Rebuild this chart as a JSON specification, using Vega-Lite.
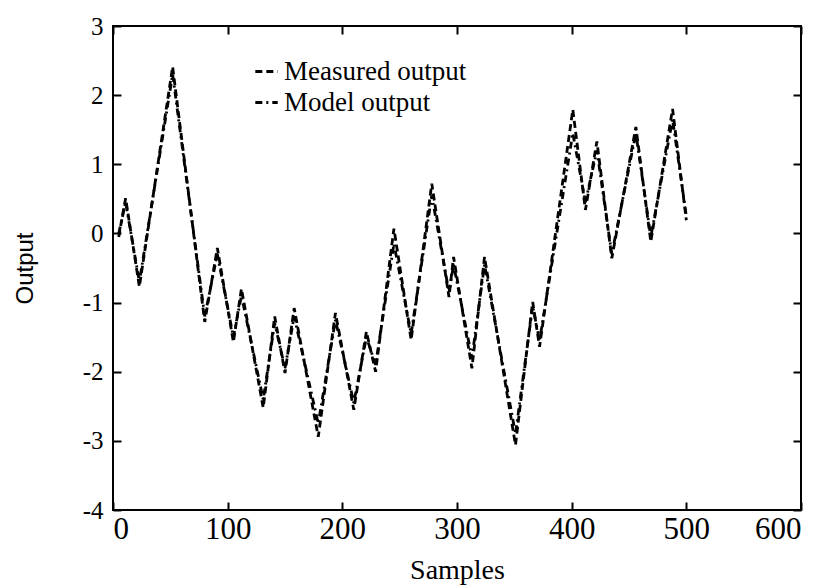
{
  "$schema": "https://vega.github.io/schema/vega-lite/v6.json",
  "width": 688,
  "height": 484,
  "autosize": {"type": "none"},
  "padding": {"left": 113, "top": 26, "right": 19, "bottom": 78},
  "background": "white",
  "config": {
    "view": {"stroke": "black", "strokeWidth": 2},
    "axis": {"grid": false, "ticks": true, "domain": false, "tickSize": 8, "zindex": 1, "tickColor": "black", "tickWidth": 2, "labelColor": "black", "titleColor": "black", "titleFontWeight": "normal"}
  },
  "datasets": {
    "series": [
      {"sample": 5, "value": -0.05, "series": "Measured output"},
      {"sample": 11, "value": 0.51, "series": "Measured output"},
      {"sample": 23, "value": -0.77, "series": "Measured output"},
      {"sample": 52, "value": 2.41, "series": "Measured output"},
      {"sample": 80, "value": -1.28, "series": "Measured output"},
      {"sample": 91, "value": -0.21, "series": "Measured output"},
      {"sample": 105, "value": -1.57, "series": "Measured output"},
      {"sample": 112, "value": -0.8, "series": "Measured output"},
      {"sample": 131, "value": -2.52, "series": "Measured output"},
      {"sample": 141, "value": -1.2, "series": "Measured output"},
      {"sample": 150, "value": -2.02, "series": "Measured output"},
      {"sample": 158, "value": -1.08, "series": "Measured output"},
      {"sample": 179, "value": -2.94, "series": "Measured output"},
      {"sample": 194, "value": -1.15, "series": "Measured output"},
      {"sample": 210, "value": -2.55, "series": "Measured output"},
      {"sample": 221, "value": -1.42, "series": "Measured output"},
      {"sample": 229, "value": -2.0, "series": "Measured output"},
      {"sample": 245, "value": 0.07, "series": "Measured output"},
      {"sample": 260, "value": -1.54, "series": "Measured output"},
      {"sample": 278, "value": 0.72, "series": "Measured output"},
      {"sample": 293, "value": -0.92, "series": "Measured output"},
      {"sample": 297, "value": -0.34, "series": "Measured output"},
      {"sample": 313, "value": -1.95, "series": "Measured output"},
      {"sample": 324, "value": -0.34, "series": "Measured output"},
      {"sample": 351, "value": -3.06, "series": "Measured output"},
      {"sample": 366, "value": -0.99, "series": "Measured output"},
      {"sample": 372, "value": -1.64, "series": "Measured output"},
      {"sample": 401, "value": 1.79, "series": "Measured output"},
      {"sample": 412, "value": 0.34, "series": "Measured output"},
      {"sample": 422, "value": 1.33, "series": "Measured output"},
      {"sample": 435, "value": -0.36, "series": "Measured output"},
      {"sample": 456, "value": 1.54, "series": "Measured output"},
      {"sample": 469, "value": -0.12, "series": "Measured output"},
      {"sample": 488, "value": 1.8, "series": "Measured output"},
      {"sample": 500, "value": 0.19, "series": "Measured output"},
      {"sample": 5, "value": 0.0, "series": "Model output"},
      {"sample": 11, "value": 0.45, "series": "Model output"},
      {"sample": 23, "value": -0.7, "series": "Model output"},
      {"sample": 52, "value": 2.3, "series": "Model output"},
      {"sample": 80, "value": -1.2, "series": "Model output"},
      {"sample": 91, "value": -0.3, "series": "Model output"},
      {"sample": 105, "value": -1.5, "series": "Model output"},
      {"sample": 112, "value": -0.9, "series": "Model output"},
      {"sample": 131, "value": -2.4, "series": "Model output"},
      {"sample": 141, "value": -1.3, "series": "Model output"},
      {"sample": 150, "value": -1.95, "series": "Model output"},
      {"sample": 158, "value": -1.2, "series": "Model output"},
      {"sample": 179, "value": -2.75, "series": "Model output"},
      {"sample": 194, "value": -1.25, "series": "Model output"},
      {"sample": 210, "value": -2.45, "series": "Model output"},
      {"sample": 221, "value": -1.5, "series": "Model output"},
      {"sample": 229, "value": -1.9, "series": "Model output"},
      {"sample": 245, "value": -0.15, "series": "Model output"},
      {"sample": 260, "value": -1.45, "series": "Model output"},
      {"sample": 278, "value": 0.55, "series": "Model output"},
      {"sample": 293, "value": -0.85, "series": "Model output"},
      {"sample": 297, "value": -0.45, "series": "Model output"},
      {"sample": 313, "value": -1.8, "series": "Model output"},
      {"sample": 324, "value": -0.45, "series": "Model output"},
      {"sample": 351, "value": -2.9, "series": "Model output"},
      {"sample": 366, "value": -1.05, "series": "Model output"},
      {"sample": 372, "value": -1.55, "series": "Model output"},
      {"sample": 401, "value": 1.45, "series": "Model output"},
      {"sample": 412, "value": 0.45, "series": "Model output"},
      {"sample": 422, "value": 1.2, "series": "Model output"},
      {"sample": 435, "value": -0.3, "series": "Model output"},
      {"sample": 456, "value": 1.45, "series": "Model output"},
      {"sample": 469, "value": -0.05, "series": "Model output"},
      {"sample": 488, "value": 1.65, "series": "Model output"},
      {"sample": 500, "value": 0.25, "series": "Model output"}
    ]
  },
  "data": {"name": "series"},
  "layer": [
    {
      "mark": {"type": "line", "color": "black", "strokeWidth": 2.8},
      "encoding": {
        "x": {"field": "sample", "type": "quantitative", "scale": {"domain": [0, 600], "nice": false},
              "axis": {"orient": "bottom", "offset": -8, "values": [0, 100, 200, 300, 400, 500, 600], "labelPadding": 4, "labelFont": "Liberation Serif", "labelFontSize": 31, "title": "Samples", "titleFont": "Liberation Serif", "titleFontSize": 28, "titlePadding": 12}},
        "y": {"field": "value", "type": "quantitative", "scale": {"domain": [-4, 3], "nice": false},
              "axis": {"orient": "left", "offset": -8, "values": [-4, -3, -2, -1, 0, 1, 2, 3], "labelPadding": 10, "labelExpr": "replace(datum.label, '\u2212', '-')", "labelFont": "Liberation Serif", "labelFontSize": 25, "title": "Output", "titleFont": "Liberation Sans", "titleFontSize": 24, "titlePadding": 45}},
        "strokeDash": {"field": "series", "type": "nominal",
                       "scale": {"domain": ["Measured output", "Model output"], "range": [[7, 4], [7, 4, 2, 4]]},
                       "legend": {"title": null, "orient": "none", "legendX": 140, "legendY": 32, "symbolType": "stroke", "symbolSize": 500, "symbolStrokeColor": "black", "symbolStrokeWidth": 2.8, "labelFont": "Liberation Serif", "labelFontSize": 27, "labelLimit": 400, "labelColor": "black", "rowPadding": 3, "labelOffset": 4}}
      }
    },
    {
      "mark": {"type": "line", "opacity": 0},
      "encoding": {
        "x": {"field": "sample", "type": "quantitative", "scale": {"domain": [0, 600], "nice": false},
              "axis": {"orient": "top", "offset": -8, "values": [0, 100, 200, 300, 400, 500, 600], "labels": false, "title": null}},
        "y": {"field": "value", "type": "quantitative", "scale": {"domain": [-4, 3], "nice": false},
              "axis": {"orient": "right", "offset": -8, "values": [-4, -3, -2, -1, 0, 1, 2, 3], "labels": false, "title": null}}
      }
    }
  ],
  "resolve": {"axis": {"x": "independent", "y": "independent"}}
}
